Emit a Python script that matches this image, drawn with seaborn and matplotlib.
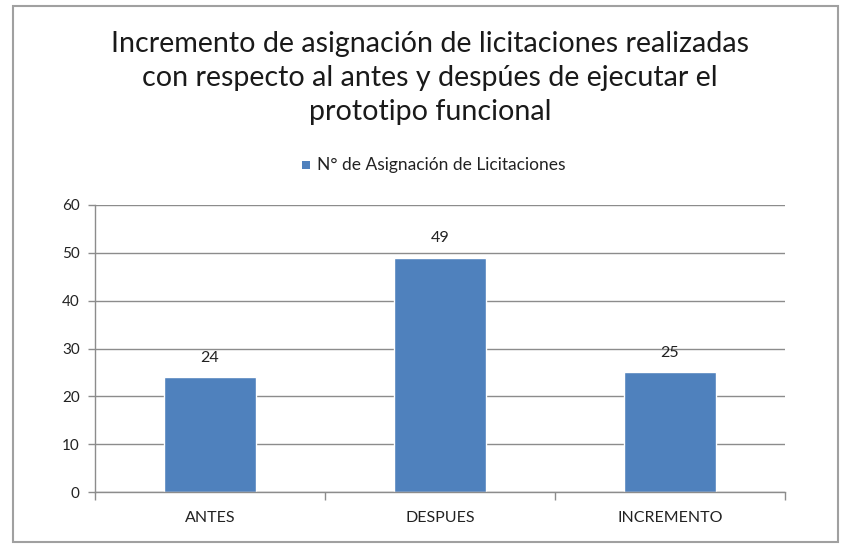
import matplotlib
matplotlib.use("Agg")
import matplotlib.pyplot as plt
import matplotlib.patches as mpatches
import pandas as pd
import seaborn as sns

categories = ["ANTES", "DESPUES", "INCREMENTO"]
values = [24, 49, 25]
series_name = "N° de Asignación de Licitaciones"
title = ("Incremento de asignación de licitaciones realizadas\n"
         "con respecto al antes y despúes de ejecutar el\n"
         "prototipo funcional")
y_ticks = [0, 10, 20, 30, 40, 50, 60]

sns.set_theme(style="white")
plt.rcParams["font.family"] = ["Lato", "DejaVu Sans"]

W, H = 846, 550
fig = plt.figure(figsize=(W / 100, H / 100), dpi=100)
fig.patch.set_facecolor("white")

# chart frame
fig.patches.append(mpatches.Rectangle((13 / W, 1 - 542 / H), 825 / W, 536 / H,
                                      transform=fig.transFigure, fill=False,
                                      edgecolor="#a0a0a0", linewidth=1.5))

ax = fig.add_axes([95 / W, 1 - 492 / H, 690 / W, 287 / H])
df = pd.DataFrame({"cat": categories, "val": values})
bar_color = "#4F81BD"
sns.barplot(data=df, x="cat", y="val", color=bar_color, width=0.4,
            saturation=1, ax=ax)

ax.set_xlim(-0.5, 2.5)
ax.set_ylim(0, 60)
ax.set_yticks(y_ticks)
ax.set_xlabel("")
ax.set_ylabel("")
grid_c = "#8c8c8c"
ax.yaxis.grid(True, color=grid_c, linewidth=1)
ax.set_axisbelow(True)
for s in ["top", "right"]:
    ax.spines[s].set_visible(False)
for s in ["left", "bottom"]:
    ax.spines[s].set_color(grid_c)
    ax.spines[s].set_linewidth(1)

ax.tick_params(axis="y", which="major", direction="out", length=5, width=1,
               color=grid_c, labelsize=11, labelcolor="#222222", pad=6, left=True)
ax.tick_params(axis="x", which="major", length=0, labelsize=11.5,
               labelcolor="#222222", pad=14)
ax.set_xticks([-0.5, 0.5, 1.5, 2.5], minor=True)
ax.tick_params(axis="x", which="minor", direction="out", length=6, width=1,
               color=grid_c, bottom=True)

for container in ax.containers:
    ax.bar_label(container, labels=[str(v) for v in values], padding=9,
                 fontsize=11.5, color="#222222")

fig.text(430 / W, 1 - 78 / H, title, ha="center", va="center",
         fontsize=20.6, color="#1a1a1a", linespacing=1.38)

# legend
fig.patches.append(mpatches.Rectangle((302 / W, 1 - 169 / H), 8 / W, 8 / H,
                                      transform=fig.transFigure,
                                      facecolor=bar_color, edgecolor="none"))
fig.text(317 / W, 1 - 165 / H, series_name, ha="left", va="center",
         fontsize=12.5, color="#222222")

fig.savefig("out.png", dpi=100, facecolor="white")
